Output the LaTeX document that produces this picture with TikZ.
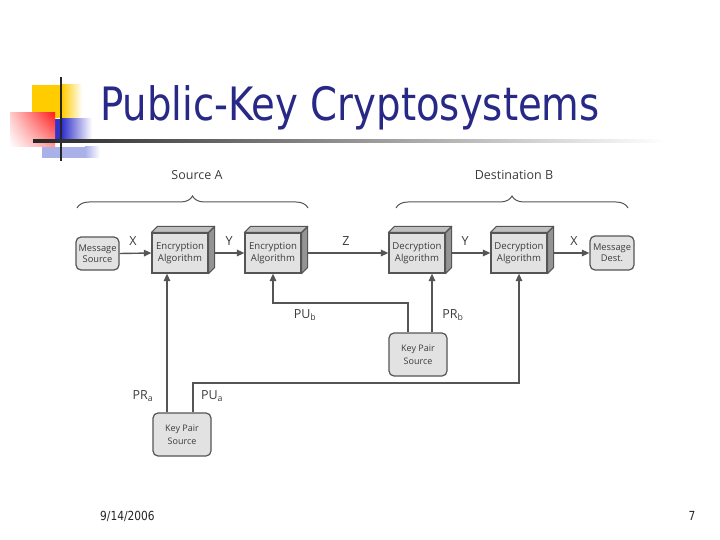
\documentclass[tikz,border=0pt]{standalone}
\usepackage{fontspec}
\setmainfont{Open Sans}
\newfontfamily\titlefont{DejaVu Sans}[FakeStretch=0.84]
\newfontfamily\footfont{DejaVu Sans}[FakeStretch=0.85]
\usetikzlibrary{arrows.meta,decorations.pathreplacing,shadings}
\definecolor{linegray}{HTML}{555555}
\definecolor{boxfill}{HTML}{E2E2E2}
\definecolor{textgray}{HTML}{3C3C3C}
\definecolor{titleblue}{RGB}{40,40,135}
\definecolor{yellowc}{RGB}{255,204,0}
\definecolor{bluec}{RGB}{51,51,204}
\definecolor{lightbluec}{RGB}{170,176,232}
\definecolor{redc}{RGB}{255,30,30}
\newcommand\cubefaces[1]{%
  \draw[linegray, line width=1.1, fill=black!42, line join=round]
    (#1.north east) -- ++(6,-6) -- ([shift={(6,-6)}]#1.south east) -- (#1.south east) -- cycle;
  \draw[linegray, line width=1.1, fill=black!25, line join=round]
    (#1.north west) -- ++(6,-6) -- ([shift={(6,-6)}]#1.north east) -- (#1.north east) -- cycle;
}
\begin{document}
\begin{tikzpicture}[x=1pt,y=-1pt,
  rbox/.style={draw=linegray, fill=boxfill, line width=1.2, rounded corners=5,
    align=center, font=\fontsize{9.3}{11}\selectfont, text=textgray, inner sep=0},
  cubebox/.style={draw=linegray, fill=boxfill, line width=1.2, minimum width=56,
    minimum height=40, align=center, font=\fontsize{9.6}{12.5}\selectfont, text=textgray, inner sep=0},
  arr/.style={draw=linegray, line width=1.4, -{Triangle[length=7.5pt,width=6.5pt]}},
  lbl/.style={text=textgray, font=\fontsize{12.5}{14}\selectfont, inner sep=0},
  brc/.style={draw=linegray, line width=1, decorate, decoration={brace, amplitude=12pt}},
  foot/.style={font=\footfont\fontsize{12.5}{14}\selectfont, text=black!85, inner sep=0}
]
\useasboundingbox (0,0) rectangle (720,540);
\fill[white] (0,0) rectangle (720,540);

% title decoration
\fill[yellowc] (32,85) rectangle (62,118);
\shade[left color=yellowc, right color=white] (62,85) rectangle (82,118);
\fill[bluec] (43,119) rectangle (62,141);
\shade[left color=bluec, right color=white] (62,119) rectangle (92,141);
\fill[lightbluec] (42,147) rectangle (85,158);
\shade[left color=lightbluec, right color=white] (85,147) rectangle (100,158);
\shade[upper left=red!20, upper right=redc, lower left=white, lower right=red!40] (10,113) rectangle (55,147);
\draw[black!85, line width=2] (61,77) -- (61,161);
\shade[left color=black!85, middle color=black!50, right color=white] (33,140) rectangle (665,142.3);

% title
\node[anchor=base west, text=titleblue, font=\titlefont\fontsize{46}{50}\selectfont, inner sep=0]
  (title) at (100,121) {Public-Key Cryptosystems};

% braces
\draw[brc] (77,208) -- (308,208);
\draw[brc] (396,208) -- (628,208);
\node[lbl] (srcA) at (197,175) {Source A};
\node[lbl] (dstB) at (514,175) {Destination B};

% boxes
\node[rbox, minimum width=43, minimum height=33] (ms) at (97.5,253.5) {Message\\Source};
\node[cubebox] (enc1) at (180,253) {Encryption\\Algorithm};
\node[cubebox] (enc2) at (273,253) {Encryption\\Algorithm};
\node[cubebox] (dec1) at (417,253) {Decryption\\Algorithm};
\node[cubebox] (dec2) at (519,253) {Decryption\\Algorithm};
\node[rbox, minimum width=44, minimum height=34] (md) at (612,253) {Message\\Dest.};
\node[rbox, minimum width=58, minimum height=43, font=\fontsize{9}{13.5}\selectfont] (kpA) at (182,434.5) {Key Pair\\Source};
\node[rbox, minimum width=58, minimum height=43, font=\fontsize{9}{13.5}\selectfont] (kpB) at (418,354.5) {Key Pair\\Source};
\cubefaces{enc1}
\cubefaces{enc2}
\cubefaces{dec1}
\cubefaces{dec2}

% main flow
\draw[arr] (ms.east) -- (enc1.west);
\draw[arr] ([xshift=6]enc1.east) -- (enc2.west);
\draw[arr] ([xshift=6]enc2.east) -- (dec1.west);
\draw[arr] ([xshift=6]dec1.east) -- (dec2.west);
\draw[arr] ([xshift=6]dec2.east) -- (md.west);

\node[lbl] (lx1) at (133,241) {X};
\node[lbl] (ly1) at (229,241) {Y};
\node[lbl] (lz) at (346,241) {Z};
\node[lbl] (ly2) at (465,241) {Y};
\node[lbl] (lx2) at (574,241) {X};

% key connections
\coordinate (pua) at (0,383);
\coordinate (pub) at (0,303);
\draw[arr] ([xshift=-15]kpA.north) -- ([xshift=-15]kpA.north |- enc1.south);
\draw[arr] ([xshift=11]kpA.north) |- (pua -| dec2.south) -- (dec2.south);
\draw[arr] ([xshift=-10]kpB.north) |- (pub -| enc2.south) -- (enc2.south);
\draw[arr] ([xshift=14]kpB.north) -- ([xshift=14]kpB.north |- dec1.south);

\node[lbl] (lpub) at (305,315) {PU\textsubscript{b}};
\node[lbl] (lprb) at (453,315) {PR\textsubscript{b}};
\node[lbl] (lpra) at (143,396) {PR\textsubscript{a}};
\node[lbl] (lpua) at (212,396) {PU\textsubscript{a}};

% footer
\node[foot, anchor=west] (date) at (100,516) {9/14/2006};
\node[foot] (page) at (692,516) {7};
\end{tikzpicture}
\end{document}
